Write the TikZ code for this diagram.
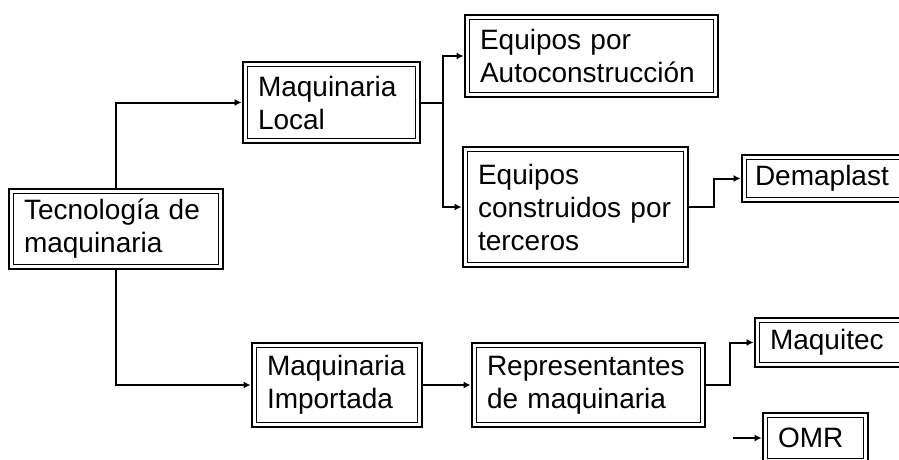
\documentclass[tikz,border=0pt]{standalone}
\usepackage{fontspec}
\setmainfont{Liberation Sans}
\usetikzlibrary{arrows.meta}

\tikzset{
	caja/.style={draw, line width=2.8pt, inner xsep=15pt, inner ysep=0pt, align=left,
		font=\fontsize{28}{33}\selectfont,
		path picture={\draw [line width=1pt] ([shift={(4.5pt,-4.5pt)}]path picture bounding box.north west) rectangle ([shift={(-4.5pt,4.5pt)}]path picture bounding box.south east);}},
	flecha/.style={-{Latex[length=7pt, width=7pt]}, line width=2pt}
}

\begin{document}
\begin{tikzpicture}[x=1pt, y=-1pt]
	\useasboundingbox (0, 0) rectangle (899, 460);

	\node (tec) at (116, 229) [caja, text width=184pt, minimum height=80pt] {Tecnología de\\maquinaria};
	\node (local) at (331.5, 102.5) [caja, text width=147pt, minimum height=81pt] {Maquinaria\\Local};
	\node (importada) at (337, 385) [caja, text width=140pt, minimum height=84pt] {Maquinaria\\Importada};

	\node (auto) at (591.5, 56) [caja, text width=223pt, minimum height=82pt] {Equipos por\\Autoconstrucción};
	\node (terceros) at (575.5, 207) [caja, text width=195pt, minimum height=120pt] {Equipos\\construidos por\\terceros};
	\node (repr) at (588.5, 385) [caja, text width=203pt, minimum height=84pt] {Representantes\\de maquinaria};

	\node (demaplast) at (827, 178.5) [caja, inner xsep=13pt, text width=144pt, minimum height=47pt] {Demaplast};
	\node (maquitec) at (835, 342.5) [caja, text width=130pt, minimum height=49pt] {Maquitec};
	\node (omr) at (815.5, 438) [caja, text width=75pt, minimum height=50pt] {OMR};

	\draw [flecha] (tec.north) |- (local.west);
	\draw [flecha] (tec.south) |- (importada.west);

	\coordinate (bus) at (443, 102.5);
	\draw [line width=2pt] (local.east) -- (bus);
	\draw [flecha] (bus) |- (auto.west);
	\draw [flecha] (bus) |- (terceros.west);

	\draw [flecha] (terceros.east) -- ++(25, 0) |- (demaplast.west);
	\draw [flecha] (importada.east) -- (repr.west);
	\draw [flecha] (repr.east) -- ++(24, 0) |- (maquitec.west);

	\coordinate (omrin) at (733, 438);
	\draw [flecha] (omrin) -- (omr.west);
\end{tikzpicture}
\end{document}
